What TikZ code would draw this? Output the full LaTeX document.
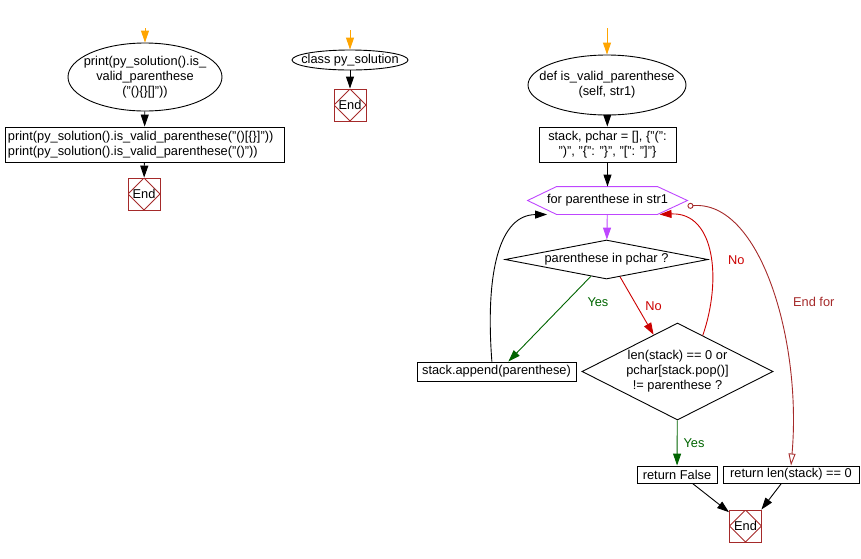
\documentclass[tikz,border=0pt]{standalone}
\usepackage{fontspec}
\setmainfont{Liberation Sans}
\usetikzlibrary{arrows.meta,shapes.geometric}
\definecolor{cStart}{RGB}{255,165,0}
\definecolor{cLoop}{RGB}{190,70,255}
\definecolor{cNo}{RGB}{204,0,0}
\definecolor{cYes}{RGB}{0,100,0}
\definecolor{cEnd}{RGB}{165,42,42}
\tikzset{
  base/.style={font=\fontsize{12.8}{15}\selectfont, line width=0.9pt},
  term/.style={base, ellipse, draw, align=center, inner xsep=-12pt, inner ysep=-6pt},
  proc/.style={base, rectangle, draw, align=center, inner sep=1pt},
  dec/.style={base, diamond, draw, align=center},
  forbox/.style={base, rectangle, inner sep=1pt},
  endbox/.style={base, rectangle, draw=cEnd, minimum size=32pt, inner sep=0pt,
    path picture={\draw[cEnd, line width=0.9pt] (path picture bounding box.north) -- (path picture bounding box.east)
      -- (path picture bounding box.south) -- (path picture bounding box.west) -- cycle;}},
  arrow/.style={-{Triangle[length=12pt,width=8pt]}, line width=0.9pt},
  startarrow/.style={arrow, draw=cStart},
  looparrow/.style={arrow, draw=cLoop},
  yesarrow/.style={arrow, draw=cYes},
  noarrow/.style={arrow, draw=cNo},
  endforarrow/.style={{Circle[open,length=6pt]}-{Triangle[open,length=12pt,width=7pt]}, line width=0.9pt, draw=cEnd},
  lbl/.style={font=\fontsize{12.8}{15}\selectfont, inner sep=0pt}
}
\begin{document}
\begin{tikzpicture}[x=1pt, y=-1pt]
  \useasboundingbox (0,0) rectangle (861,558);
  % main program
  \coordinate (sprnt) at (145,28);
  \node[term, minimum width=154, minimum height=68] (prnt) at (145,77) {print(py\_solution().is\_\\valid\_parenthese\\("()\{\}[]"))};
  \node[proc, text width=273pt, inner xsep=3pt, align=left, minimum height=35] (calls) at (144.5,144.5)
    {print(py\_solution().is\_valid\_parenthese("()[\{\}]"))\\print(py\_solution().is\_valid\_parenthese("()"))};
  \node[endbox] (end1) at (144,194) {End};
  \draw[startarrow] (sprnt) -- (prnt);
  \draw[arrow] (prnt) -- (calls);
  \draw[arrow] (calls) -- (end1);
  % class
  \coordinate (scls) at (350,30);
  \node[term, minimum width=116, minimum height=20] (cls) at (350,60) {class py\_solution};
  \node[endbox] (end2) at (350,105) {End};
  \draw[startarrow] (scls) -- (cls);
  \draw[arrow] (cls) -- (end2);
  % method
  \coordinate (sdef) at (607,28);
  \node[term, minimum width=158, minimum height=60] (def) at (607,85) {def is\_valid\_parenthese\\(self, str1)};
  \node[proc, minimum width=137, minimum height=35] (init) at (607.5,144.5) {stack, pchar = [], \{"(":\\")", "\{": "\}", "[": "]"\}};
  \node[forbox, minimum width=159, minimum height=27] (forp) at (607.5,200.5) {for parenthese in str1};
  \draw[cLoop, line width=0.9pt] (forp.west) -- ([xshift=29pt]forp.north west) -- ([xshift=-30pt]forp.north east)
    -- (forp.east) -- ([xshift=-30pt]forp.south east) -- ([xshift=29pt]forp.south west) -- cycle;
  \node[dec, minimum width=203, minimum height=39, aspect=5.2, inner sep=0pt] (inp) at (606.5,259.5) {parenthese in pchar ?};
  \node[proc, minimum width=159, minimum height=19] (app) at (496.5,371.5) {stack.append(parenthese)};
  \node[dec, minimum width=191, minimum height=97, aspect=2, inner sep=-8pt] (chk) at (677.5,371.5) {len(stack) == 0 or\\pchar[stack.pop()]\\!= parenthese ?};
  \node[proc, minimum width=80, minimum height=17] (retf) at (677,474.5) {return False};
  \node[proc, minimum width=136, minimum height=17] (retl) at (791,474.5) {return len(stack) == 0};
  \node[endbox] (end3) at (745.5,526) {End};
  \draw[startarrow] (sdef) -- (def);
  \draw[arrow] (def) -- (init);
  \draw[arrow] (init) -- (forp);
  \draw[looparrow] (forp) -- (inp);
  \draw[yesarrow] (inp.227) -- node[lbl, text=cYes, pos=0.3, right=21pt] {Yes} (app.40);
  \draw[noarrow] (inp.308) -- node[lbl, text=cNo, midway, right=8pt] {No} (chk.123);
  \draw[arrow] (app.115) .. controls (485,270) and (500,215) .. (forp.193);
  \draw[noarrow] (chk.55) .. controls (722,280) and (715,212) .. node[lbl, text=cNo, pos=0.45, right=17pt] {No} (forp.345);
  \draw[endforarrow] (forp.356) .. controls (760,200) and (802,340) .. node[lbl, text=cEnd, pos=0.55, right=17pt] {End for} (retl.north);
  \draw[yesarrow] (chk) -- node[lbl, text=cYes, midway, right=6pt] {Yes} (retf);
  \draw[arrow] (retf.330) -- (end3.140);
  \draw[arrow] (retl.223) -- (end3.46);
\end{tikzpicture}
\end{document}
